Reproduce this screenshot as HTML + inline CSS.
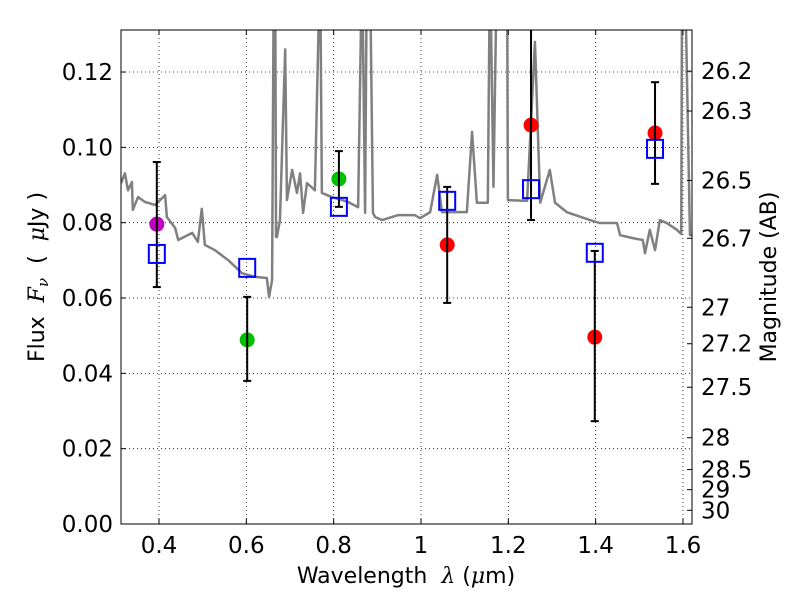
<!DOCTYPE html>
<html><head><meta charset="utf-8"><style>
body{margin:0;background:#fff}
svg{font-family:"DejaVu Sans","Liberation Sans",sans-serif}
text{white-space:pre}
</style></head><body>
<svg id="c" width="800" height="600" viewBox="0 0 800 600">
<rect x="0" y="0" width="800" height="600" fill="#fff"/>
<g id="grid"></g>
<defs><clipPath id="clip"><rect x="121" y="30" width="571" height="494"/></clipPath></defs>
<g id="plot" clip-path="url(#clip)"></g>
<rect x="121" y="30" width="571" height="494" fill="none" stroke="#000" stroke-width="1"/>
<g id="axes"></g>
<text x="406" y="583" font-size="22" text-anchor="middle">Wavelength  <tspan font-style="italic" font-family="DejaVu Serif,serif">λ</tspan> (<tspan font-style="italic" font-family="DejaVu Serif,serif">μ</tspan>m)</text>
<text transform="translate(44,277) rotate(-90)" font-size="22" text-anchor="middle">Flux  <tspan font-style="italic" font-family="DejaVu Serif,serif">F<tspan font-size="15" dy="4">ν</tspan></tspan><tspan dy="-4">  (  </tspan><tspan font-style="italic" font-family="DejaVu Serif,serif">μ</tspan>Jy )</text>
<text transform="translate(776,277) rotate(-90)" font-size="22" text-anchor="middle">Magnitude (AB)</text>
</svg>
<script>
const xTicks=[0.4,0.6,0.8,1.0,1.2,1.4,1.6];
const xTickLabels=["0.4","0.6","0.8","1","1.2","1.4","1.6"];
const yTicks=[0,0.02,0.04,0.06,0.08,0.10,0.12];
const yTickLabels=["0.00","0.02","0.04","0.06","0.08","0.10","0.12"];
const magTicks=[26.2,26.3,26.5,26.7,27,27.2,27.5,28,28.5,29,30];
const specLam=[0.313,0.322,0.329,0.338,0.340,0.352,0.368,0.391,0.414,0.418,0.437,0.444,0.476,0.489,0.498,0.505,0.528,0.558,0.590,0.620,0.647,0.652,0.659,0.663,0.666,0.668,0.670,0.677,0.689,0.693,0.705,0.716,0.723,0.730,0.739,0.757,0.769,0.773,0.796,0.833,0.856,0.865,0.872,0.876,0.883,0.890,0.895,0.911,0.947,0.986,0.998,1.021,1.037,1.048,1.105,1.117,1.128,1.153,1.158,1.166,1.174,1.181,1.190,1.197,1.199,1.243,1.261,1.273,1.295,1.307,1.334,1.387,1.410,1.449,1.456,1.485,1.508,1.513,1.524,1.536,1.547,1.563,1.586,1.596,1.598,1.604,1.616,1.625];
const specFlux=[0.0905,0.0931,0.0886,0.0908,0.0834,0.0868,0.0855,0.0847,0.0873,0.0815,0.0786,0.0754,0.0773,0.0749,0.0837,0.0741,0.0727,0.0701,0.0666,0.0656,0.0653,0.0603,0.0648,0.15,0.15,0.0762,0.0762,0.0807,0.126,0.0860,0.0940,0.0879,0.0931,0.0826,0.0905,0.0886,0.15,0.0879,0.0868,0.0855,0.0841,0.15,0.0826,0.15,0.15,0.0826,0.0815,0.0807,0.0820,0.0820,0.0812,0.0828,0.0927,0.0828,0.0828,0.1041,0.0853,0.0853,0.15,0.0895,0.15,0.15,0.15,0.15,0.0860,0.0858,0.128,0.0853,0.0940,0.0853,0.0828,0.0807,0.0799,0.0799,0.0767,0.0759,0.0754,0.0719,0.0781,0.0727,0.0807,0.0799,0.0781,0.0770,0.15,0.15,0.0767,0.0767];
const obsLam=[0.395,0.602,0.812,1.060,1.252,1.398,1.536];
const obsFlux=[0.0796,0.0489,0.0916,0.0741,0.1059,0.0496,0.1038];
const errHi=[0.0961,0.0603,0.0990,0.0895,0.1400,0.0725,0.1173];
const errLo=[0.0629,0.0380,0.0842,0.0587,0.0807,0.0273,0.0903];
const obsColors=["#bf00bf","#00bf00","#00bf00","#ff0000","#ff0000","#ff0000","#ff0000"];
const modelFlux=[0.0717,0.0680,0.0842,0.0858,0.0889,0.0720,0.0996];
const NS="http://www.w3.org/2000/svg";
const X=v=>159+(v-0.4)/0.2*87.33;
const Y=v=>524-v/0.02*75.33;
function mk(p,t,a){const e=document.createElementNS(NS,t);for(const k in a)e.setAttribute(k,a[k]);p.appendChild(e);return e;}
const grid=document.getElementById('grid'),plot=document.getElementById('plot'),axes=document.getElementById('axes');
xTicks.forEach((t,i)=>{
 const l=mk(grid,'line',{x1:X(t),x2:X(t),y1:30,y2:524,stroke:'#000','stroke-width':0.8,'stroke-dasharray':'1,3'});
 
 mk(axes,'line',{x1:X(t),x2:X(t),y1:524,y2:519,stroke:'#000'});
 mk(axes,'line',{x1:X(t),x2:X(t),y1:30,y2:35,stroke:'#000'});
 const tx=mk(axes,'text',{x:X(t),y:553,'font-size':23,'text-anchor':'middle'});tx.textContent=xTickLabels[i];
 
});
yTicks.forEach((t,i)=>{
 const l=mk(grid,'line',{x1:121,x2:692,y1:Y(t),y2:Y(t),stroke:'#000','stroke-width':0.8,'stroke-dasharray':'1,3'});
 
 mk(axes,'line',{x1:121,x2:126,y1:Y(t),y2:Y(t),stroke:'#000'});
 const tx=mk(axes,'text',{x:113,y:Y(t)+8,'font-size':23,'text-anchor':'end'});tx.textContent=yTickLabels[i];
 
});
magTicks.forEach(m=>{
 const f=Math.pow(10,(23.9-m)/2.5);
 mk(axes,'line',{x1:687,x2:692,y1:Y(f),y2:Y(f),stroke:'#000'});
 const tx=mk(axes,'text',{x:701,y:Y(f)+8,'font-size':23});tx.textContent=String(m);
 
});
const sp=mk(plot,'polyline',{points:specLam.map((l,i)=>X(l)+','+Y(specFlux[i])).join(' '),fill:'none',stroke:'#808080','stroke-width':2.5,'stroke-linejoin':'round'});

obsLam.forEach((l,i)=>{
 const c=mk(plot,'circle',{cx:X(l),cy:Y(obsFlux[i]),r:7.5,fill:obsColors[i]});
 
});
obsLam.forEach((l,i)=>{
 const g=mk(plot,'g',{stroke:'#000','stroke-width':2});
 
 mk(g,'line',{x1:X(l),x2:X(l),y1:Y(errHi[i]),y2:Y(errLo[i])});
 mk(g,'line',{x1:X(l)-4,x2:X(l)+4,y1:Y(errHi[i]),y2:Y(errHi[i])});
 mk(g,'line',{x1:X(l)-4,x2:X(l)+4,y1:Y(errLo[i]),y2:Y(errLo[i])});
});
obsLam.forEach((l,i)=>{
 const r=mk(plot,'rect',{x:X(l)-8,y:Y(modelFlux[i])-9,width:16,height:18,fill:'none',stroke:'#0000ff','stroke-width':2});
 
});
</script>
</body></html>
